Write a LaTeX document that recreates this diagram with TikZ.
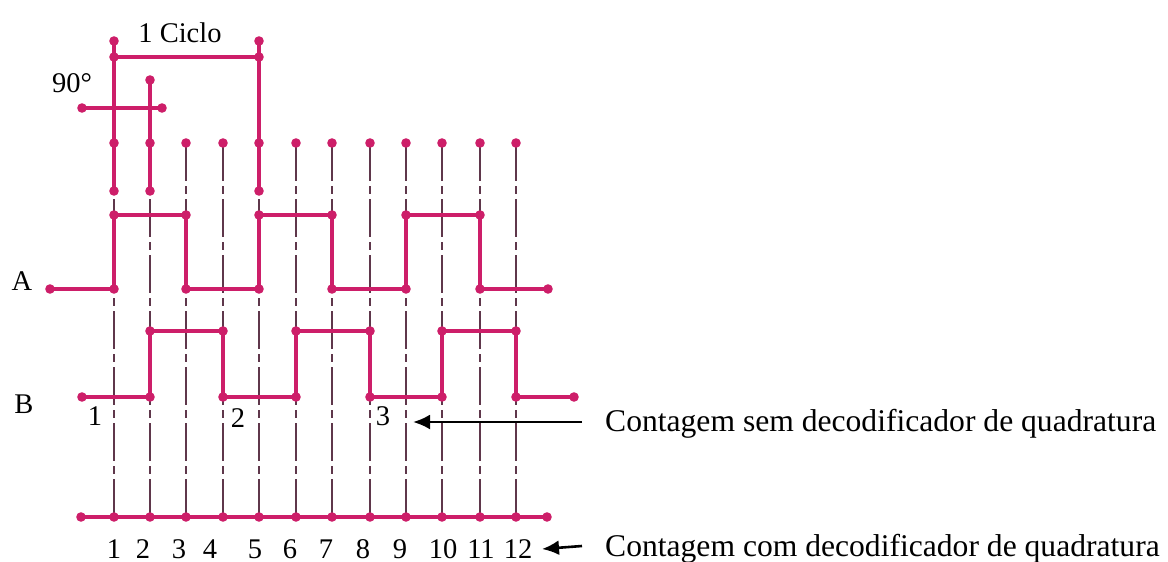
\documentclass[tikz,border=0pt]{standalone}
\usepackage{fontspec}
\setmainfont{Liberation Serif}
\usetikzlibrary{arrows.meta}
\definecolor{wave}{RGB}{205,30,105}
\definecolor{gridc}{RGB}{95,55,75}
\begin{document}
\begin{tikzpicture}[x=1pt,y=-1pt,
  thickline/.style={draw=wave,line width=3.8pt,line join=miter},
  gridline/.style={draw=gridc,line width=1.3pt,dash pattern=on 38pt off 5pt on 8pt off 5pt},
  lbl/.style={font=\fontsize{28.5}{30}\selectfont,anchor=base,inner sep=0pt},
  big/.style={font=\fontsize{31.6}{36}\selectfont,anchor=base west,inner sep=0pt},
  arr/.style={draw=black,line width=2.6pt,-{Latex[length=17pt,width=15pt]}}]
\path[use as bounding box] (0,0) rectangle (1168,562);
% grid coordinates
\foreach \i/\x in {1/114,2/150,3/186,4/223,5/259,6/296,7/332,8/370,9/406,10/442,11/480,12/516}{
  \coordinate (t\i) at (\x,143);
  \coordinate (b\i) at (\x,517);
  \coordinate (Ahi\i) at (\x,215);
  \coordinate (Alo\i) at (\x,289);
  \coordinate (Bhi\i) at (\x,331);
  \coordinate (Blo\i) at (\x,397);
}
\foreach \i in {1,...,12}{ \draw[gridline] (t\i) -- (b\i); }
% top structure
\coordinate (c1top) at (114,41);
\coordinate (c1bar) at (114,57);
\coordinate (c1low) at (114,191);
\coordinate (c5top) at (259,41);
\coordinate (c5bar) at (259,57);
\coordinate (c5low) at (259,191);
\coordinate (c2top) at (150,80);
\coordinate (c2low) at (150,191);
\coordinate (p90L) at (82,108);
\coordinate (p90R) at (162,108);
\draw[thickline] (c1top) -- (c1low);
\draw[thickline] (c5top) -- (c5low);
\draw[thickline] (c1bar) -- (c5bar);
\draw[thickline] (c2top) -- (c2low);
\draw[thickline] (p90L) -- (p90R);
% waveform A
\coordinate (AS) at (50,289);
\coordinate (AE) at (548,289);
\draw[thickline] (AS) -- (Alo1) -- (Ahi1) -- (Ahi3) -- (Alo3) -- (Alo5) -- (Ahi5) -- (Ahi7) -- (Alo7) -- (Alo9) -- (Ahi9) -- (Ahi11) -- (Alo11) -- (AE);
% waveform B
\coordinate (BS) at (82,397);
\coordinate (BE) at (574,397);
\draw[thickline] (BS) -- (Blo2) -- (Bhi2) -- (Bhi4) -- (Blo4) -- (Blo6) -- (Bhi6) -- (Bhi8) -- (Blo8) -- (Blo10) -- (Bhi10) -- (Bhi12) -- (Blo12) -- (BE);
% bottom line
\coordinate (bS) at (81,517);
\coordinate (bE) at (547,517);
\draw[thickline] (bS) -- (bE);
% dots
\foreach \p in {c1top,c1bar,c1low,c5top,c5bar,c5low,c2top,c2low,p90L,p90R,
  AS,AE,Alo1,Ahi1,Ahi3,Alo3,Alo5,Ahi5,Ahi7,Alo7,Alo9,Ahi9,Ahi11,Alo11,
  BS,BE,Blo2,Bhi2,Bhi4,Blo4,Blo6,Bhi6,Bhi8,Blo8,Blo10,Bhi10,Bhi12,Blo12,bS,bE}{
  \fill[wave] (\p) circle (4.8pt);
}
\foreach \i in {1,...,12}{ \fill[wave] (t\i) circle (4.8pt); \fill[wave] (b\i) circle (4.8pt); }
% labels
\node[lbl] (ciclo) at (180,42) {1 Ciclo};
\node[lbl] (deg) at (72,92) {90°};
\node[lbl] (labA) at (22,290) {A};
\node[lbl] (labB) at (24,413) {B};
\node[lbl] (n1) at (95,425) {1};
\node[lbl] (n2) at (238,427) {2};
\node[lbl] (n3) at (383,425) {3};
\foreach \k/\x in {1/114,2/143,3/179,4/210,5/255,6/290,7/326,8/363,9/400,10/443,11/481,12/518}{
  \node[lbl] (q\k) at (\x,558) {\k};
}
% right side
\node[big] (sem) at (605,431) {Contagem sem decodificador de quadratura};
\node[big] (com) at (605,556) {Contagem com decodificador de quadratura};
\coordinate (semtail) at (582,422);
\coordinate (semtip) at (413,422);
\coordinate (comtail) at (582,546);
\coordinate (comtip) at (542,549);
\draw[arr] (semtail) -- (semtip);
\draw[arr] (comtail) -- (comtip);
\end{tikzpicture}
\end{document}
